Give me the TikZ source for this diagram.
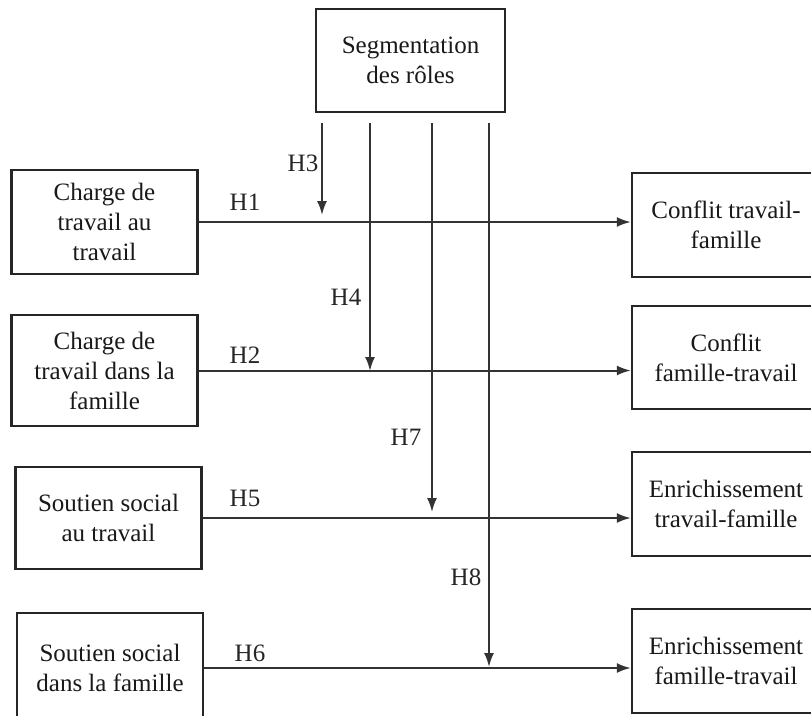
\documentclass[tikz,border=0pt]{standalone}
\usepackage{fontspec}
\setmainfont{Liberation Serif}
\usepackage{tikz}
\usetikzlibrary{arrows.meta}

\begin{document}
\begin{tikzpicture}[x=1pt,y=-1pt,>={Latex[length=14pt,width=10pt]},
    font=\fontsize{25}{30}\selectfont,
    varbox/.style={draw=black!85,line width=2.4pt,minimum width=186pt,align=center,inner sep=0pt,text=black!90},
    hlab/.style={text=black!85,inner sep=0pt},
    link/.style={->,line width=2pt,draw=black!80}]
  \clip (0,0) rectangle (811,715);
  \fill[white] (0,0) rectangle (811,715);
  % moderator
  \node[varbox,minimum width=189pt,minimum height=103pt] (seg) at (410.5,60.5) {Segmentation\\des rôles};
  % predictors
  \node[varbox,minimum height=104pt] (cht) at (104.5,222) {Charge de\\travail au\\travail};
  \node[varbox,minimum height=111pt] (chf) at (104.5,370.5) {Charge de\\travail dans la\\famille};
  \node[varbox,minimum height=102pt] (sst) at (108.5,518) {Soutien social\\au travail};
  \node[varbox,minimum height=110pt] (ssf) at (110,668) {Soutien social\\dans la famille};
  % outcomes
  \node[varbox,minimum width=188pt,minimum height=104pt] (ctf) at (726,225) {Conflit travail-\\famille};
  \node[varbox,minimum width=188pt,minimum height=103pt] (cft) at (726,357.5) {Conflit\\famille-travail};
  \node[varbox,minimum width=188pt,minimum height=104pt] (etf) at (726,504) {Enrichissement\\travail-famille};
  \node[varbox,minimum width=188pt,minimum height=104pt] (eft) at (726,661) {Enrichissement\\famille-travail};
  % direct paths
  \foreach \src/\dst in {cht/ctf,chf/cft,sst/etf,ssf/eft}{
    \draw[link] (\src.east) -- (\src.east -| \dst.west);
  }
  \node[hlab] (h1) at (245,202) {H1};
  \node[hlab] (h2) at (245,355) {H2};
  \node[hlab] (h5) at (245,498) {H5};
  \node[hlab] (h6) at (250,653) {H6};
  % moderation paths
  \foreach \x/\yend/\name in {322/215/h3,370/371/h4,432/512/h7,489/667/h8}{
    \coordinate (\name end) at (\x,\yend);
    \draw[link,shorten <=10pt] (seg.south -| \name end) -- (\name end);
  }
  \node[hlab] (h3) at (303,163) {H3};
  \node[hlab] (h4) at (346,297) {H4};
  \node[hlab] (h7) at (406,437) {H7};
  \node[hlab] (h8) at (466,577) {H8};
\end{tikzpicture}
\end{document}
